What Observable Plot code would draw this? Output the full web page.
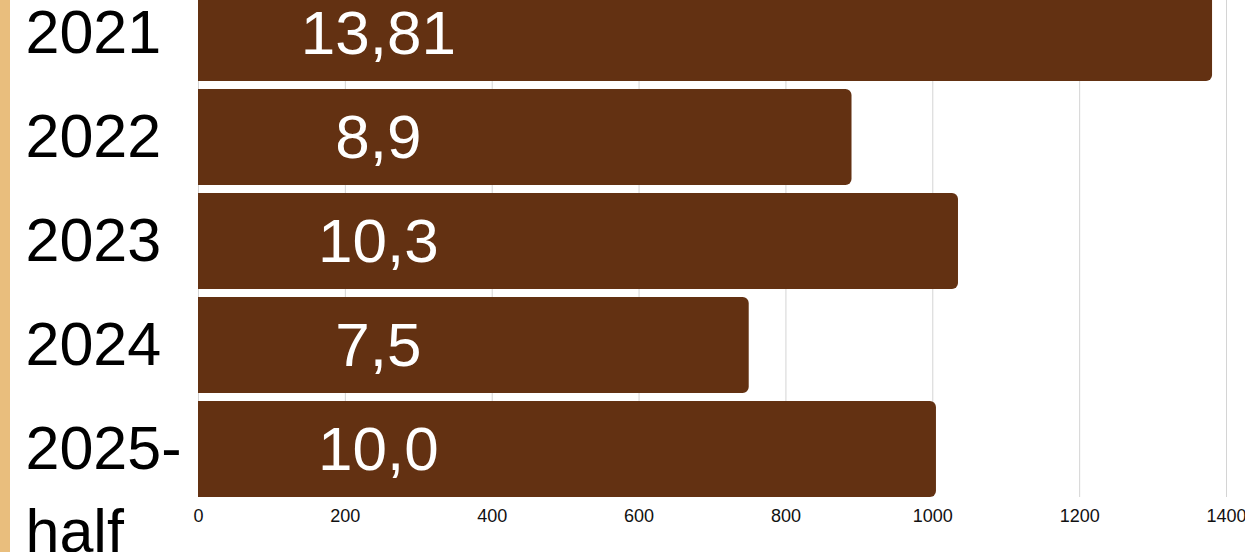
<!DOCTYPE html>
<html>
<head>
<meta charset="utf-8">
<script src="https://cdn.jsdelivr.net/npm/d3@7"></script>
<script src="https://cdn.jsdelivr.net/npm/@observablehq/plot@0.6"></script>
<style>
  html, body { margin: 0; padding: 0; background: #fff; }
  body { width: 1245px; height: 552px; overflow: hidden; position: relative; font-family: "Liberation Sans", Arial, sans-serif; }
  #stripe { position: absolute; left: 0; top: 0; width: 10px; height: 552px; background: #e9be7d; z-index: 2; }
  #chart svg { display: block; }
</style>
</head>
<body>
<div id="stripe"></div>
<div id="chart"></div>
<script>
const years = ["2021", "2022", "2023", "2024", "2025-half"];
const values = [1381, 890, 1035, 750, 1005];
const valueLabels = ["13,81", "8,9", "10,3", "7,5", "10,0"];
const xTicks = [0, 200, 400, 600, 800, 1000, 1200, 1400];

const data = years.map((y, i) => ({year: y, value: values[i], label: valueLabels[i]}));

const chart = Plot.plot({
  width: 1245,
  height: 552,
  marginLeft: 198,
  marginRight: 19,
  marginTop: 0,
  marginBottom: 55,
  style: {fontFamily: "'Liberation Sans', Arial, sans-serif", fontSize: "18px", color: "#111", background: "#fff"},
  x: {domain: [0, 1400], ticks: xTicks, label: null},
  y: {domain: years, range: [-15, 497], paddingInner: 0.08, paddingOuter: 0, axis: null},
  marks: [
    Plot.gridX(xTicks, {stroke: "#d4d4d4", strokeOpacity: 1, strokeWidth: 1}),
    Plot.barX(data, {x: "value", y: "year", fill: "#633112", rx2: 6}),
    Plot.axisX(xTicks, {tickSize: 0, tickPadding: 12, fontSize: 18, fill: "#111", label: null, tickFormat: d => String(d)}),
    Plot.text(data, {x: () => 245, y: "year", text: "label", fill: "#fff", fontSize: 62, textAnchor: "middle", dy: 1}),
    Plot.text(data, {y: "year", text: d => d.year.replace("-", "-\n"), frameAnchor: "left", dx: -173, textAnchor: "start", lineAnchor: "top", dy: -39, fontSize: 61, lineHeight: 1.36, fill: "#000"})
  ]
});
document.getElementById("chart").appendChild(chart);
</script>
</body>
</html>
